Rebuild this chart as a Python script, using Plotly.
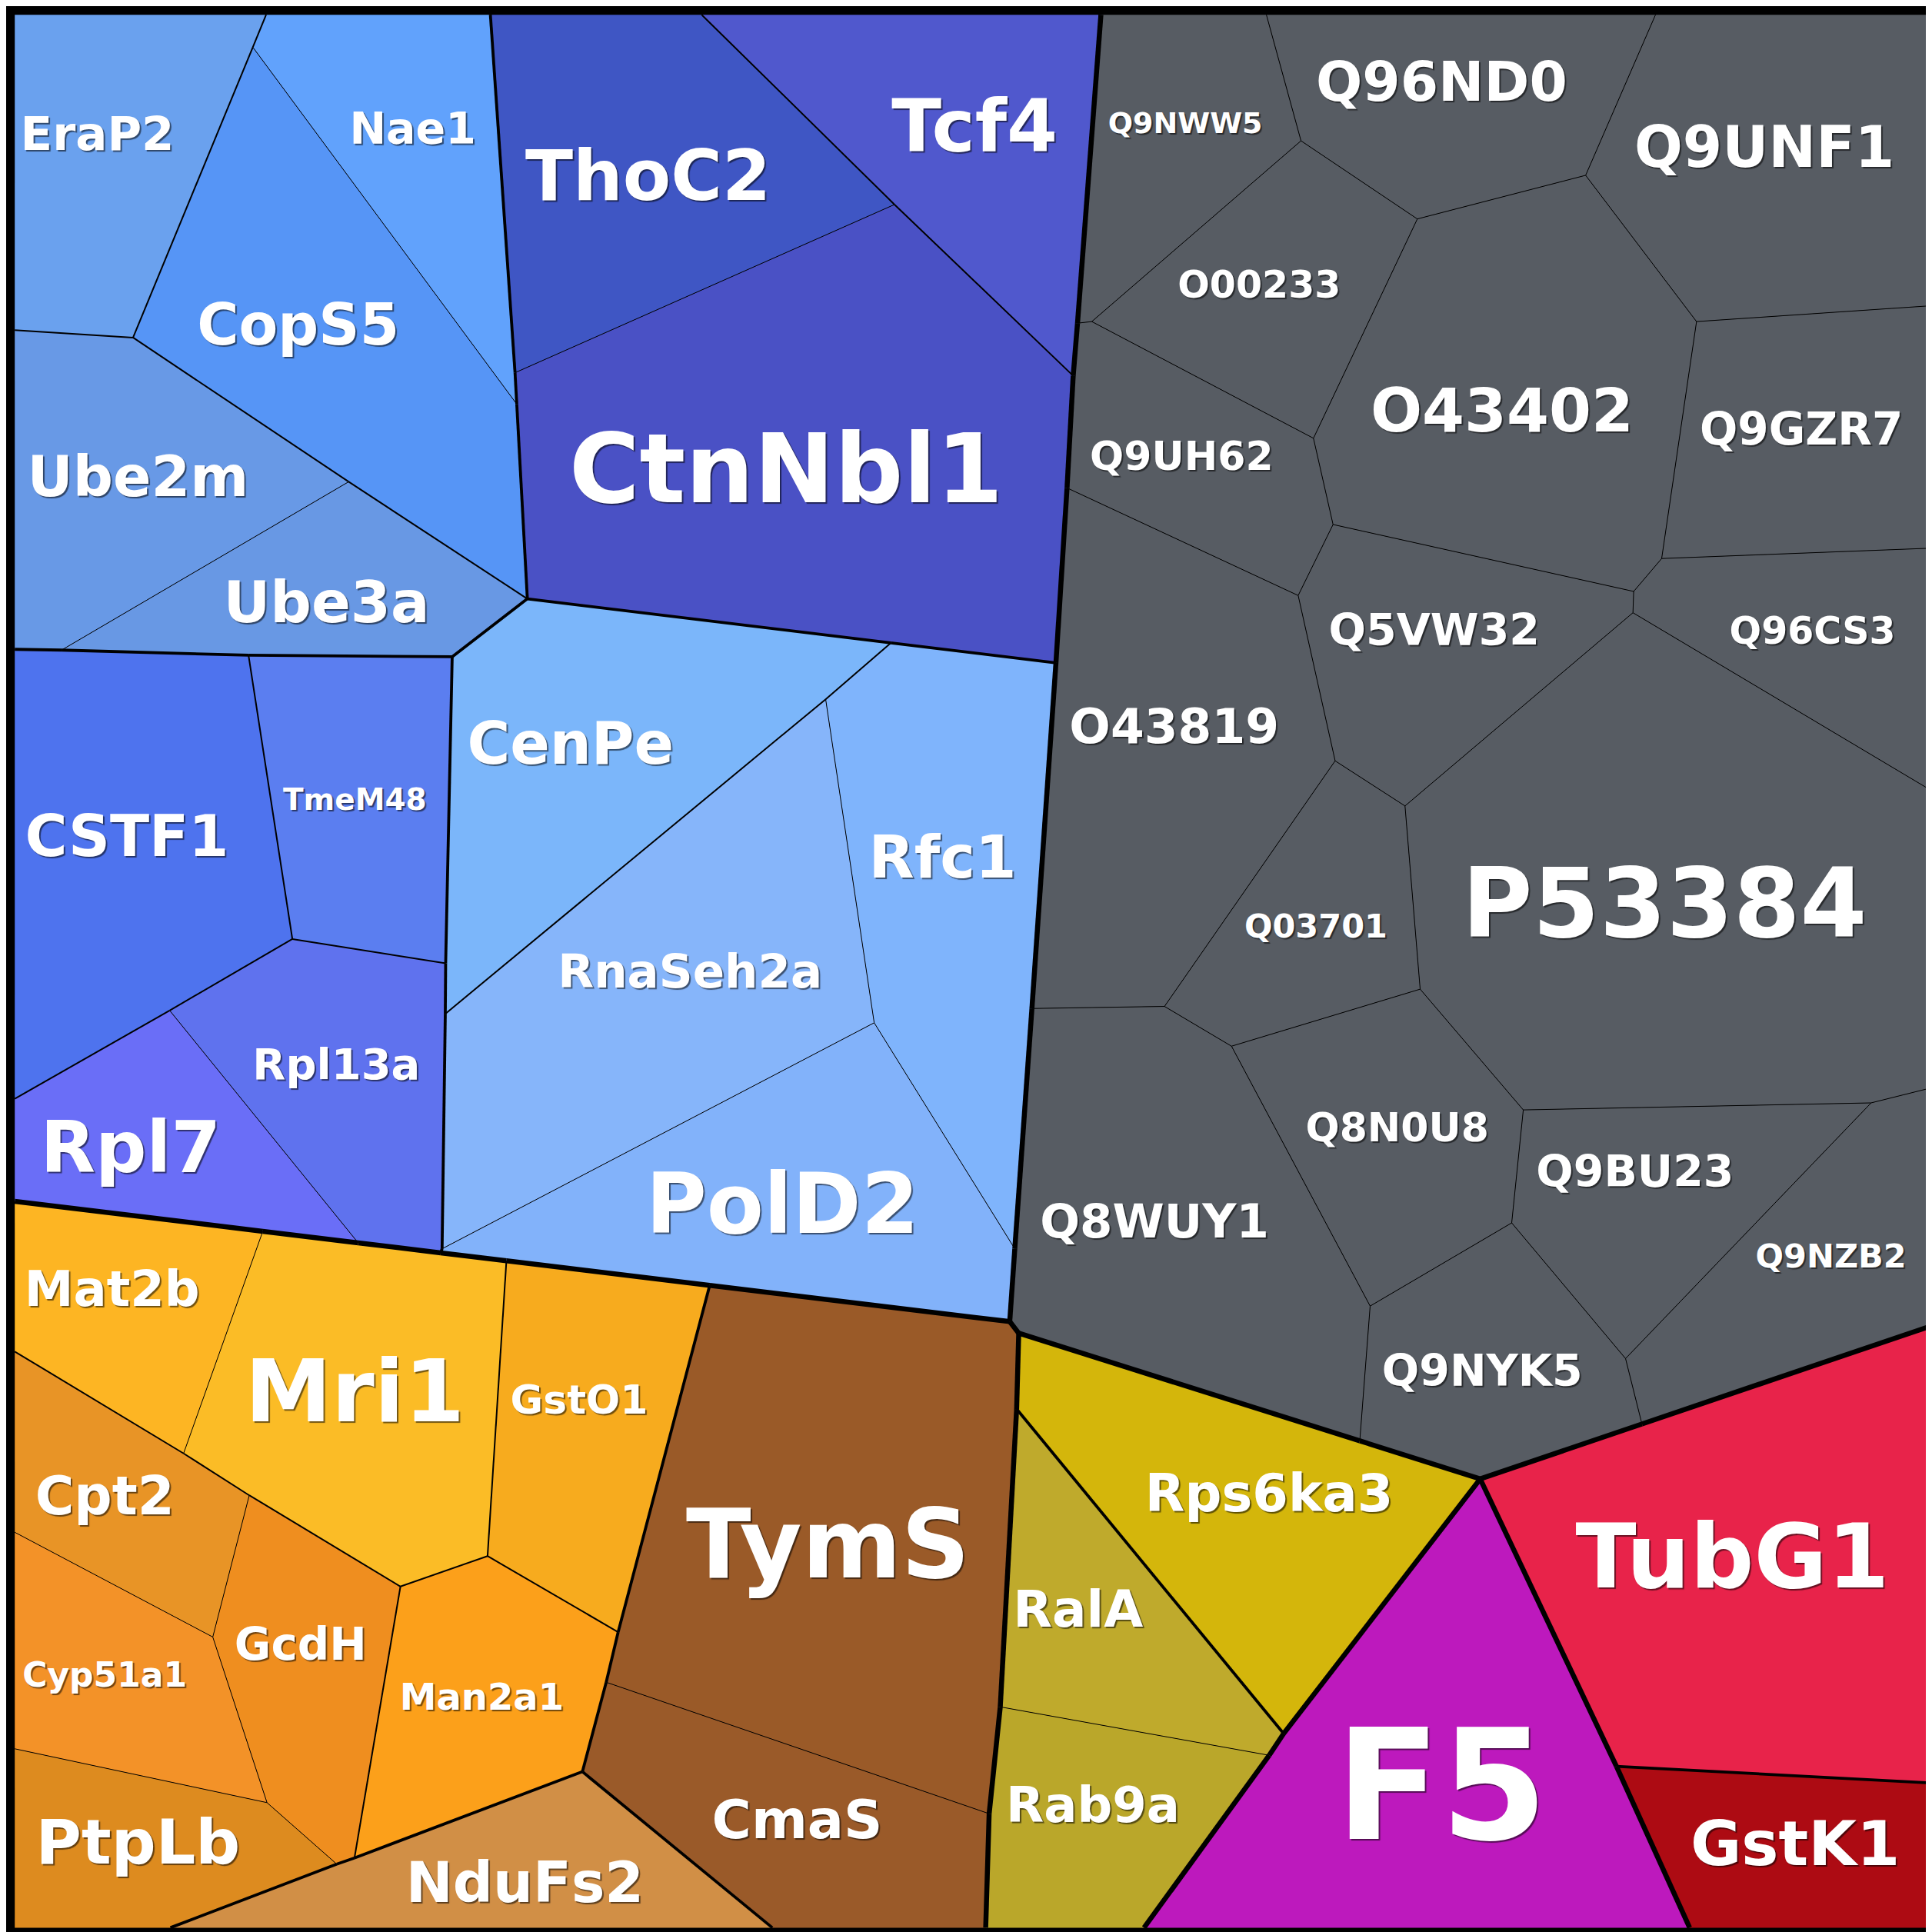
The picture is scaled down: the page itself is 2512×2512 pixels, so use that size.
import sys
from collections import defaultdict
import plotly.graph_objects as go

# ---------------- data ----------------
VERTEX_IDS = ["c_tl", "t1", "t2", "t3", "t4", "t5", "t6", "c_tr",
              "r1", "r2", "r3", "r4", "r5", "r6", "c_br",
              "b1", "b2", "b3", "b4", "b5", "c_bl",
              "l1", "l2", "l3", "l4", "l5", "l6", "l7",
              "a1", "a2", "a3", "a4", "a5", "a6", "a7", "a8", "m0",
              "d1", "d2", "d3", "p0",
              "m1", "m2", "m3", "m4", "m5",
              "p1", "p2", "p3", "p4", "p5", "X", "Y",
              "o1", "o2", "o3", "o4", "o5", "o6", "o7", "o8", "o9", "o10", "o11", "o12", "o13", "o14",
              "k1", "y1", "y2", "y3", "y4", "G", "gy", "gr", "r7",
              "g1", "g2", "g3", "g4", "g5", "g6", "g7", "g8", "g9", "g10", "g11", "g12",
              "g13", "g14", "g15", "g16", "g17", "g18", "g19", "g20", "g21", "g22", "g23", "g24"]
VERTEX_X = [7, 211, 393, 564.5, 888.5, 1022.8, 1338.6, 1560,
            1560, 1560, 1560, 1560, 1560, 1560, 1560,
            1366.3, 923.5, 795, 621.8, 133.3, 7,
            7, 7, 7, 7, 7, 7, 7,
            200.2, 103, 278, 423, 45, 413, 414.4, 362, 196.7,
            721, 866, 852, 718,
            232.3, 356.7, 132.7, 285.7, 352.7,
            356.4, 353.8, 665.1, 704.5, 818.6, 814.5, 821.8,
            208.3, 406, 571, 144, 197.3, 320, 390.7, 496.7, 487, 467.7, 282.7, 268.3, 167.7, 211.7,
            797.8, 820.1, 806.8, 1036.8, 1025.1, 1196.3, 1098.6, 1327.6, 1306.9,
            869.5, 861, 832.5, 881.1, 1050.9, 1145.3, 1281.9, 1371.9, 1061, 1076.9, 1048.6, 1343.6,
            1320.9, 1320.3, 1135.3, 1078.6, 940.1, 1147.6, 994.5, 1231.3, 1513.6, 1221.9, 1107, 1314.3]
VERTEX_Y = [7, 7, 7, 7, 7, 7, 7, 7,
            243.3, 440, 635.1, 878.5, 1071.9, 1441.9, 1559.5,
            1559.5, 1559.5, 1559.5, 1559.5, 1559.5, 1559.5,
            263, 522, 886.8, 970, 1091.9, 1238.6, 1414.3,
            33.3, 269, 386, 481, 522.6, 297.5, 323, 528, 526.8,
            161, 300, 533, 516.8,
            757.1, 776.8, 815.1, 1003.7, 1011.8,
            817.8, 1008.5, 562.5, 825.1, 1008.5, 1067.6, 1077,
            994.3, 1018.2, 1038.2, 1174.6, 1208.6, 1282.6, 1257.9, 1319.6, 1360.3, 1432.9, 1502.9, 1507.9, 1323.6, 1458,
            1467, 1138.6, 1380.3, 1402, 1419.6, 1195.3, 1164.4, 1150.7, 1428.6,
            257.3, 391, 813.5, 256, 109.3, 172.7, 137.3, 256, 350.7, 420.7, 478.3, 448.3,
            475, 492.3, 649.1, 612.5, 811.8, 797.8, 844.1, 895.8, 890.1, 987.5, 1055, 1097.6]

CELL_NAMES = ["EraP2", "Nae1", "CopS5", "Ube2m", "Ube3a",
              "ThoC2", "Tcf4", "CtnNbl1",
              "CSTF1", "TmeM48", "Rpl13a", "Rpl7",
              "CenPe", "RnaSeh2a", "Rfc1", "PolD2",
              "Q9NWW5", "Q96ND0", "Q9UNF1", "O00233", "Q9UH62", "O43402", "Q9GZR7", "Q96CS3",
              "Q5VW32", "O43819", "P53384", "Q03701", "Q8N0U8", "Q9BU23", "Q9NZB2", "Q8WUY1", "Q9NYK5",
              "Mat2b", "Mri1", "GstO1", "Cpt2", "GcdH", "Cyp51a1", "PtpLb", "Man2a1",
              "TymS", "CmaS", "NduFs2",
              "Rps6ka3", "RalA", "Rab9a", "F5", "TubG1", "GstK1"]
CELL_VERTICES = [
    ["c_tl", "t1", "a1", "a2", "l1"],
    ["t1", "t2", "a6", "a7", "a1"],
    ["a1", "a7", "a4", "a3", "a2"],
    ["l1", "a2", "a3", "a5", "l2"],
    ["a5", "a3", "a4", "a8", "m0"],
    ["t2", "t3", "d1", "a6"],
    ["t3", "t4", "g1", "d2", "d1"],
    ["a6", "d1", "d2", "g2", "d3", "p0", "a4", "a7"],
    ["l2", "a5", "m0", "m1", "m3", "l3"],
    ["m0", "a8", "m2", "m1"],
    ["m1", "m2", "p1", "p2", "m5", "m4", "m3"],
    ["l3", "m3", "m4", "o1", "l4"],
    ["a8", "a4", "p0", "p3", "p1", "m2"],
    ["p1", "p3", "p4", "p2"],
    ["p3", "p0", "d3", "g3", "p5", "p4"],
    ["p2", "p4", "p5", "X", "o3", "o2", "m5"],
    ["t4", "t5", "g5", "g4", "g1"],
    ["t5", "t6", "g7", "g6", "g5"],
    ["t6", "c_tr", "r1", "g8", "g7"],
    ["g4", "g5", "g6", "g9"],
    ["g1", "g4", "g9", "g10", "g11", "g2", "d2"],
    ["g6", "g7", "g8", "g12", "g13", "g10", "g9"],
    ["g8", "r1", "r2", "g12"],
    ["g12", "r2", "r3", "g14", "g13"],
    ["g10", "g13", "g14", "g15", "g16", "g11"],
    ["g2", "g11", "g16", "g17", "g3", "d3"],
    ["g15", "g14", "r3", "r4", "g21", "g20", "g18"],
    ["g16", "g15", "g18", "g19", "g17"],
    ["g19", "g18", "g20", "g22", "g23"],
    ["g20", "g21", "g24", "g22"],
    ["g21", "r4", "r5", "gr", "g24"],
    ["g3", "g17", "g19", "g23", "gy", "Y", "X", "p5"],
    ["g23", "g22", "g24", "gr", "G", "gy"],
    ["l4", "o1", "o4", "l5"],
    ["o1", "m4", "m5", "o2", "o7", "o6", "o5", "o4"],
    ["o2", "o3", "o8", "o7"],
    ["l5", "o4", "o5", "o13", "l6"],
    ["o5", "o6", "o11", "o12", "o14", "o13"],
    ["l6", "o13", "o14", "l7"],
    ["l7", "o14", "o12", "b5", "c_bl"],
    ["o6", "o7", "o8", "o9", "o10", "o11"],
    ["o3", "X", "Y", "y1", "y2", "k1", "o9", "o8"],
    ["o9", "k1", "b3", "b4", "o10"],
    ["b5", "o12", "o11", "o10", "b4"],
    ["Y", "gy", "G", "y3", "y1"],
    ["y1", "y3", "y4", "y2"],
    ["y2", "y4", "b2", "b3", "k1"],
    ["G", "r7", "b1", "b2", "y4", "y3"],
    ["G", "gr", "r5", "r6", "r7"],
    ["r7", "r6", "c_br", "b1"],
]
# hierarchy path of each cell: (top group, subgroup, sub-subgroup)
CELL_GROUPS = [
    ("B", "L", "1"), ("B", "L", "2"), ("B", "L", "2"), ("B", "L", "3"), ("B", "L", "3"),
    ("B", "D", "2"), ("B", "D", "1"), ("B", "D", "2"),
    ("B", "M", "1"), ("B", "M", "2"), ("B", "M", "3"), ("B", "M", "3"),
    ("B", "P", "1"), ("B", "P", "2"), ("B", "P", "2"), ("B", "P", "2"),
] + [("G", "G", "G")] * 17 + [
    ("O", "Or", "1"), ("O", "Or", "1"), ("O", "Or", "2"), ("O", "Or", "4"), ("O", "Or", "4"),
    ("O", "Or", "4"), ("O", "Or", "4"), ("O", "Or", "3"),
    ("O", "Br", "1"), ("O", "Br", "1"), ("O", "Tn", "1"),
    ("Y", "Y1", "1"), ("Y", "Y2", "1"), ("Y", "Y2", "1"),
    ("F", "F", "1"),
    ("R", "R1", "1"), ("R", "R2", "1"),
]

CELL_COLORS = [
    "#6AA1EE", "#61A2FC", "#5695F6", "#6899E6", "#6898E4",
    "#3F56C4", "#5058CD", "#4A51C5",
    "#4E73EE", "#5B7EF0", "#5F72EE", "#6A6EF7",
    "#7BB6FA", "#86B5FA", "#7FB4FC", "#82B2FA",
] + ["#575C63"] * 17 + [
    "#FDB523", "#FBBC26", "#F7AB1E", "#E89426", "#EF8E1F", "#F39228", "#DD8B1F", "#FCA01A",
    "#9A5A28", "#9A5A29", "#D18F46",
    "#D4B60B", "#BFAA2C", "#BAA72A",
    "#BD19BD",
    "#E8234A", "#AD0B13",
]

# ---------------- label layout ----------------
LABEL_X = [74, 330, 237, 107, 260,
           521, 786, 633,
           98, 283, 268, 101,
           458, 555, 760, 630,
           957, 1165, 1427, 1017, 954, 1214, 1457, 1466,
           1159, 948, 1346, 1063, 1129, 1322, 1481, 932, 1198,
           86, 283, 465, 80, 239, 80, 107, 386,
           667, 642, 421,
           1025, 870, 882, 1165, 1401, 1452]
LABEL_Y = [107, 103, 263, 386, 488,
           143, 103, 383,
           678, 646, 862, 932,
           603, 787, 695, 979,
           97, 66, 119, 229, 368, 333, 347, 510,
           510, 588, 736, 749, 913, 949, 1017, 990, 1111,
           1045, 1131, 1134, 1213, 1333, 1357, 1495, 1375,
           1256, 1476, 1527,
           1211, 1305, 1464, 1456, 1265, 1496]
LABEL_SIZE = [61, 57, 74, 73, 75,
              91, 95, 125,
              75, 39, 56, 93,
              76, 61, 77, 108,
              38, 71, 74, 49, 52, 79, 58, 49,
              57, 63, 125, 43, 52, 57, 43, 61, 57,
              64, 113, 52, 69, 58, 44, 81, 48,
              124, 70, 73,
              67, 66, 64, 200, 116, 81]

EDGE_WIDTHS = {0: 6.5, 1: 3.8, 2: 2.0, 3: 1.0}

# ---------------- build ----------------
VX = dict(zip(VERTEX_IDS, VERTEX_X))
VY = dict(zip(VERTEX_IDS, VERTEX_Y))

fig = go.Figure()

for name, verts, color in zip(CELL_NAMES, CELL_VERTICES, CELL_COLORS):
    xs = [VX[v] for v in verts] + [VX[verts[0]]]
    ys = [VY[v] for v in verts] + [VY[verts[0]]]
    fig.add_trace(go.Scatter(x=xs, y=ys, mode="lines", fill="toself",
                             fillcolor=color, line=dict(width=0, color=color),
                             hoverinfo="skip", showlegend=False, name=name))

edge_cells = defaultdict(list)
edge_order = []
for i, verts in enumerate(CELL_VERTICES):
    n = len(verts)
    for k in range(n):
        a, b = verts[k], verts[(k + 1) % n]
        key = frozenset((a, b))
        if key not in edge_cells:
            edge_order.append((a, b))
        edge_cells[key].append(i)


def depth(p, q):
    for d in range(3):
        if p[d] != q[d]:
            return d
    return 3


segments = defaultdict(lambda: ([], []))
for a, b in edge_order:
    cells = edge_cells[frozenset((a, b))]
    if len(cells) == 1:
        continue
    if len(cells) > 2:
        print("edge shared by >2 cells", a, b, file=sys.stderr)
    d = depth(CELL_GROUPS[cells[0]], CELL_GROUPS[cells[1]])
    xs, ys = segments[d]
    xs += [VX[a], VX[b], None]
    ys += [VY[a], VY[b], None]

for d in sorted(segments.keys(), reverse=True):
    xs, ys = segments[d]
    fig.add_trace(go.Scatter(x=xs, y=ys, mode="lines",
                             line=dict(width=EDGE_WIDTHS[d], color="#000000"),
                             hoverinfo="skip", showlegend=False))

fig.add_trace(go.Scatter(
    x=LABEL_X, y=LABEL_Y, mode="text", text=CELL_NAMES,
    textposition="middle center",
    textfont=dict(family="DejaVu Sans", size=LABEL_SIZE, color="#FFFFFF",
                  weight="bold", shadow="2px 2px 1px rgba(0,0,0,0.55)"),
    hoverinfo="skip", showlegend=False))

fig.update_layout(
    width=2512, height=2512,
    margin=dict(l=0, r=0, t=0, b=0),
    paper_bgcolor="#000000", plot_bgcolor="#000000",
    xaxis=dict(range=[0, 1568], visible=False, showgrid=False, zeroline=False, fixedrange=True),
    yaxis=dict(range=[1568, 0], visible=False, showgrid=False, zeroline=False, fixedrange=True),
)

fig.write_html("out.html")
